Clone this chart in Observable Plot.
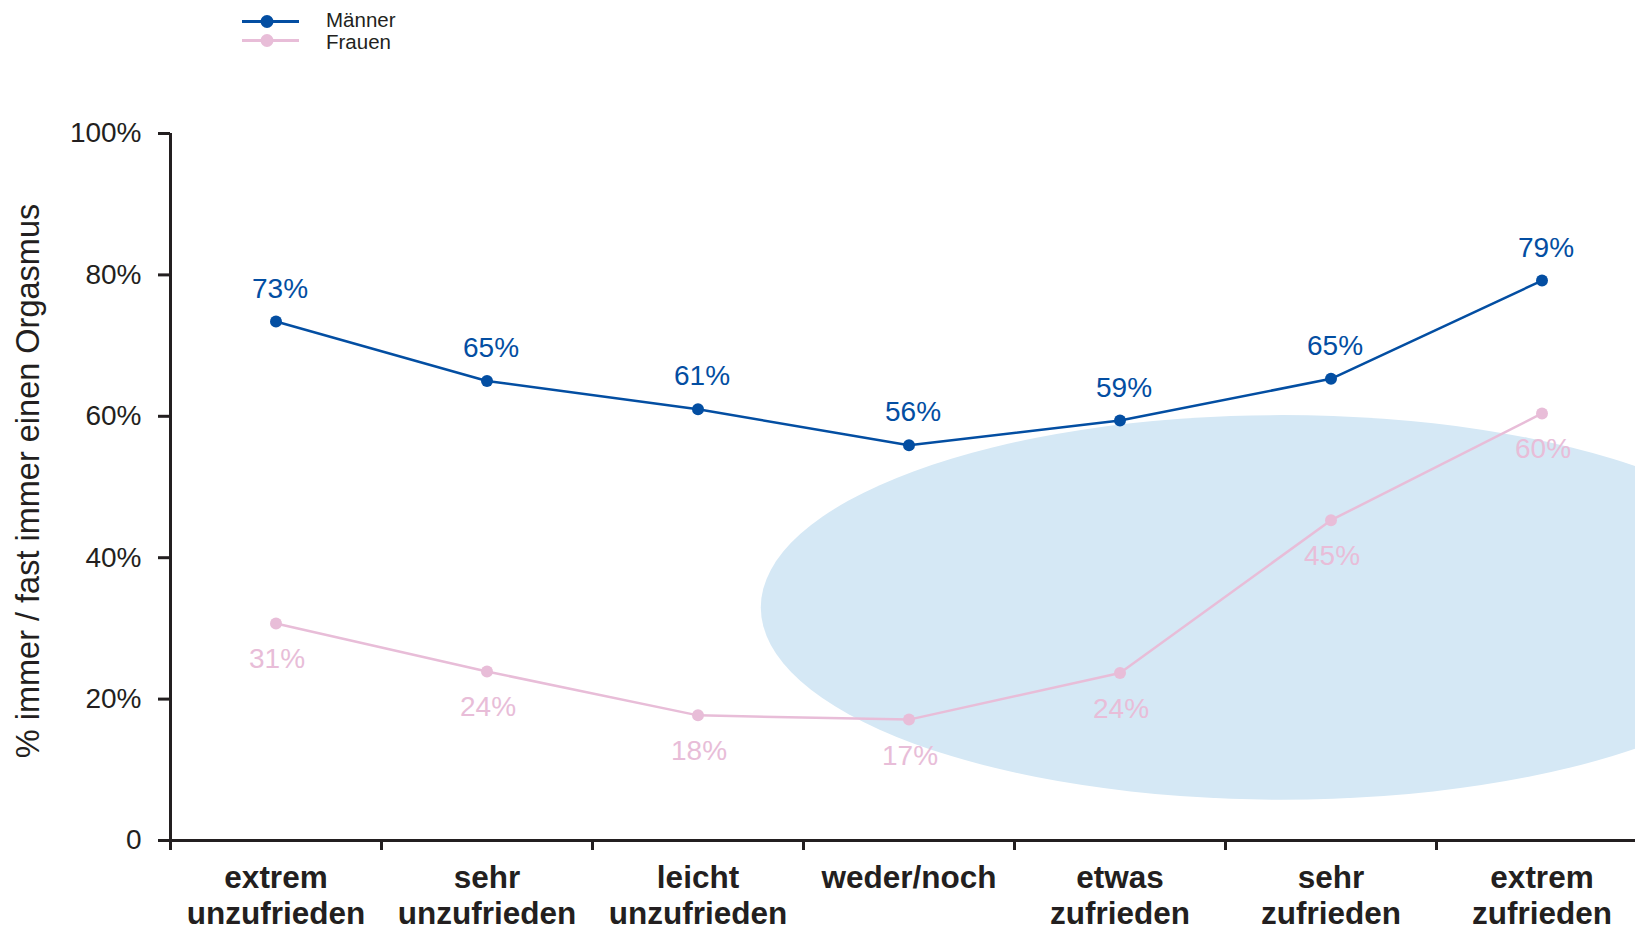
<!DOCTYPE html>
<html>
<head>
<meta charset="utf-8">
<script src="https://cdn.jsdelivr.net/npm/d3@7"></script>
<script src="https://cdn.jsdelivr.net/npm/@observablehq/plot@0.6"></script>
<style>
  html, body { margin: 0; padding: 0; background: #fff; overflow: hidden; }
  body { font-family: "Liberation Sans", Arial, Helvetica, sans-serif; color: #231f20; }
  #legend { position: relative; height: 60px; width: 1635px; }
  #legend svg { position: absolute; left: 0; top: 0; }
  #chart { width: 1647px; }
</style>
</head>
<body>
<div id="legend"></div>
<div id="chart"></div>
<script>
// ---- data ----
const categories = [
  "extrem\nunzufrieden",
  "sehr\nunzufrieden",
  "leicht\nunzufrieden",
  "weder/noch",
  "etwas\nzufrieden",
  "sehr\nzufrieden",
  "extrem\nzufrieden"
];
const maenner = [73.4, 65.0, 61.0, 55.9, 59.4, 65.3, 79.2];
const frauen  = [30.7, 23.9, 17.7, 17.1, 23.7, 45.3, 60.4];
const seriesNames = ["Männer", "Frauen"];
const yTicks = [0, 20, 40, 60, 80, 100];
const yLabel = "% immer / fast immer einen Orgasmus";
// highlight ellipse, in data units (category index, percent)
const ellipseCenter = [4.77, 32.9];
const ellipseRadii = [2.47, 27.2];

const BLUE = "#034ea2";
const PINK = "#e8bdd8";
const INK = "#231f20";
const ELLIPSE = "#d5e8f5";
const FONT = '"Liberation Sans", Arial, Helvetica, sans-serif';

const rows = [];
maenner.forEach((v, i) => rows.push({i, v, s: seriesNames[0]}));
frauen.forEach((v, i) => rows.push({i, v, s: seriesNames[1]}));
const men = rows.filter(d => d.s === seriesNames[0]);
const women = rows.filter(d => d.s === seriesNames[1]);

const bounds = d3.range(categories.length + 1).map(k => k - 0.5);
const centers = d3.range(categories.length);

// ---- legend ----
const lg = d3.select("#legend").append("svg").attr("width", 600).attr("height", 60);
[[seriesNames[0], BLUE, 21.5, 19.5], [seriesNames[1], PINK, 40.5, 42]].forEach(([name, c, y, ty]) => {
  lg.append("line").attr("x1", 242).attr("x2", 299).attr("y1", y).attr("y2", y)
    .attr("stroke", c).attr("stroke-width", 3);
  lg.append("circle").attr("cx", 267).attr("cy", y).attr("r", 6.5).attr("fill", c);
  lg.append("text").attr("x", 326).attr("y", ty).attr("dy", "0.35em")
    .attr("font-family", FONT).attr("font-size", 20.5).attr("fill", INK).text(name);
});

// ---- ellipse render mark ----
function ellipseMark(index, scales) {
  const x = scales.x, y = scales.y;
  const cx = x(ellipseCenter[0]), cy = y(ellipseCenter[1]);
  const rx = Math.abs(x(ellipseCenter[0] + ellipseRadii[0]) - cx);
  const ry = Math.abs(y(ellipseCenter[1] + ellipseRadii[1]) - cy);
  const g = d3.create("svg:g");
  g.append("ellipse").attr("cx", cx).attr("cy", cy).attr("rx", rx).attr("ry", ry).attr("fill", ELLIPSE);
  return g.node();
}

const chart = Plot.plot({
  width: 1647,
  height: 869,
  marginLeft: 170,
  marginRight: 0,
  marginTop: 73,
  marginBottom: 89,
  style: {fontFamily: FONT, color: INK, background: "#fff", overflow: "visible", maxWidth: "none"},
  x: {domain: [-0.5, categories.length - 0.5], axis: null},
  y: {domain: [0, 100], axis: null},
  marks: [
    ellipseMark,
    // y axis
    Plot.axisY({ticks: yTicks, tickSize: 12, tickPadding: 17, strokeWidth: 3, stroke: INK,
      fontSize: 28, fill: INK, tickFormat: d => d === 0 ? "0" : d + "%", label: null}),
    Plot.ruleX([-0.5], {y1: 0, y2: 100, stroke: INK, strokeWidth: 3}),
    Plot.ruleY([0], {x1: -0.5, x2: categories.length, stroke: INK, strokeWidth: 3}),
    // x axis boundary ticks
    Plot.axisX({ticks: bounds, tickSize: 10, strokeWidth: 3, stroke: INK, tickFormat: () => "", label: null}),
    // x axis category labels
    Plot.axisX({ticks: centers, tickSize: 0, tickPadding: 22, fontSize: 31.5, fontWeight: "bold",
      lineHeight: 1.15, fill: INK, tickFormat: i => categories[i], label: null}),
    // y label
    Plot.text([yLabel], {frameAnchor: "left", dx: -142, dy: -6, rotate: -90, fontSize: 32.5, fill: INK,
      textAnchor: "middle", lineAnchor: "middle"}),
    // series
    Plot.line(women, {x: "i", y: "v", stroke: PINK, strokeWidth: 2.5}),
    Plot.dot(women, {x: "i", y: "v", r: 6, fill: PINK}),
    Plot.line(men, {x: "i", y: "v", stroke: BLUE, strokeWidth: 2.5}),
    Plot.dot(men, {x: "i", y: "v", r: 6, fill: BLUE}),
    Plot.text(men, {x: "i", y: "v", text: d => Math.round(d.v) + "%", dy: -33, dx: 4,
      fill: BLUE, fontSize: 28}),
    Plot.text(women, {x: "i", y: "v", text: d => Math.round(d.v) + "%", dy: 36, dx: 1,
      fill: PINK, fontSize: 28})
  ]
});
document.getElementById("chart").appendChild(chart);
</script>
</body>
</html>
